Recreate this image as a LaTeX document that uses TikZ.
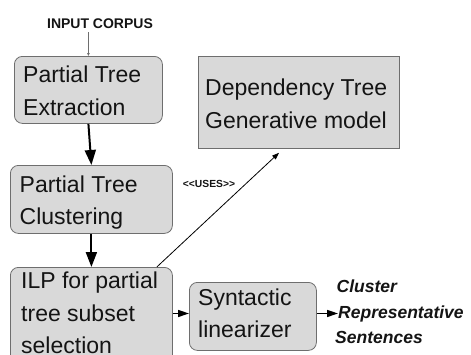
\documentclass[tikz,border=0pt]{standalone}
\usepackage{fontspec}
\setmainfont{Liberation Sans}
\usetikzlibrary{arrows.meta}
\definecolor{boxfill}{HTML}{D9D9D9}
\definecolor{boxline}{HTML}{6E6E6E}
\definecolor{ink}{HTML}{141414}
\begin{document}
\begin{tikzpicture}[x=1pt,y=-1pt,
  boxbase/.style={draw=boxline, fill=boxfill, line width=0.8pt, inner sep=0pt, anchor=north west},
  rbox/.style={boxbase, rounded corners=8pt},
  sbox/.style={boxbase},
  boxtext/.style={anchor=base west, inner sep=0pt, text=ink, font=\fontsize{23}{33}\selectfont},
  outtext/.style={anchor=base west, inner sep=0pt, text=ink, font=\fontsize{17.5}{25}\selectfont\bfseries\itshape},
  bigarrow/.style={line width=2pt, -{Triangle[length=15pt,width=11pt]}},
  midarrow/.style={line width=1.5pt, -{Triangle[length=11pt,width=7pt]}},
  thinarrow/.style={line width=0.8pt, -{Triangle[length=7pt,width=5pt]}}
]
\useasboundingbox (0,0) rectangle (471,354);

% input label
\node[anchor=base, inner sep=0pt, text=ink, font=\fontsize{14}{16}\selectfont\bfseries] (input) at (100,28) {INPUT CORPUS};

% boxes
\node[rbox, minimum width=148pt, minimum height=67pt] (b1) at (14,56) {};
\node[rbox, minimum width=162pt, minimum height=68pt] (b2) at (10,165) {};
\node[rbox, minimum width=162pt, minimum height=110pt] (b3) at (10,267) {};
\node[sbox, minimum width=201pt, minimum height=92pt] (dep) at (198,56) {};
\node[rbox, minimum width=127pt, minimum height=68pt] (syn) at (189,282) {};

% box texts
\node[boxtext] (b1a) at (23,82) {Partial Tree};
\node[boxtext] (b1b) at (23,115) {Extraction};
\node[boxtext] (b2a) at (19.5,192) {Partial Tree};
\node[boxtext] (b2b) at (19.5,224) {Clustering};
\node[boxtext] (b3a) at (21,288) {ILP for partial};
\node[boxtext] (b3b) at (21,321) {tree subset};
\node[boxtext] (b3c) at (21,353) {selection};
\node[boxtext] (depa) at (205,95) {Dependency Tree};
\node[boxtext] (depb) at (205,128) {Generative model};
\node[boxtext] (syna) at (198,305) {Syntactic};
\node[boxtext] (synb) at (198,337) {linearizer};

% output text
\node[outtext] (o1) at (336.5,292) {Cluster};
\node[outtext] (o2) at (338,318) {Representative};
\node[outtext] (o3) at (335,343) {Sentences};

% uses label
\node[anchor=base, inner sep=0pt, text=ink, font=\fontsize{10.3}{12}\selectfont\bfseries] (uses) at (209,187) {<\kern0pt<USES>\kern0pt>};

% connectors
\draw[draw=boxline, line width=0.7pt, -{Triangle[length=3pt,width=2.5pt]}] (b1.north |- 0,32) -- (b1.north);
\draw[bigarrow] (b1.south) -- (b2.north);
\draw[bigarrow] (b2.south) -- (b3.north);
\draw[midarrow] (b3.east |- o2.west) -- (syn.west |- o2.west);
\draw[midarrow] (syn.east |- o2.west) -- (o2.west);
\draw[thinarrow] ([xshift=-16pt]b3.north east) -- ([xshift=81pt,yshift=-4pt]dep.south west);
\end{tikzpicture}
\end{document}
